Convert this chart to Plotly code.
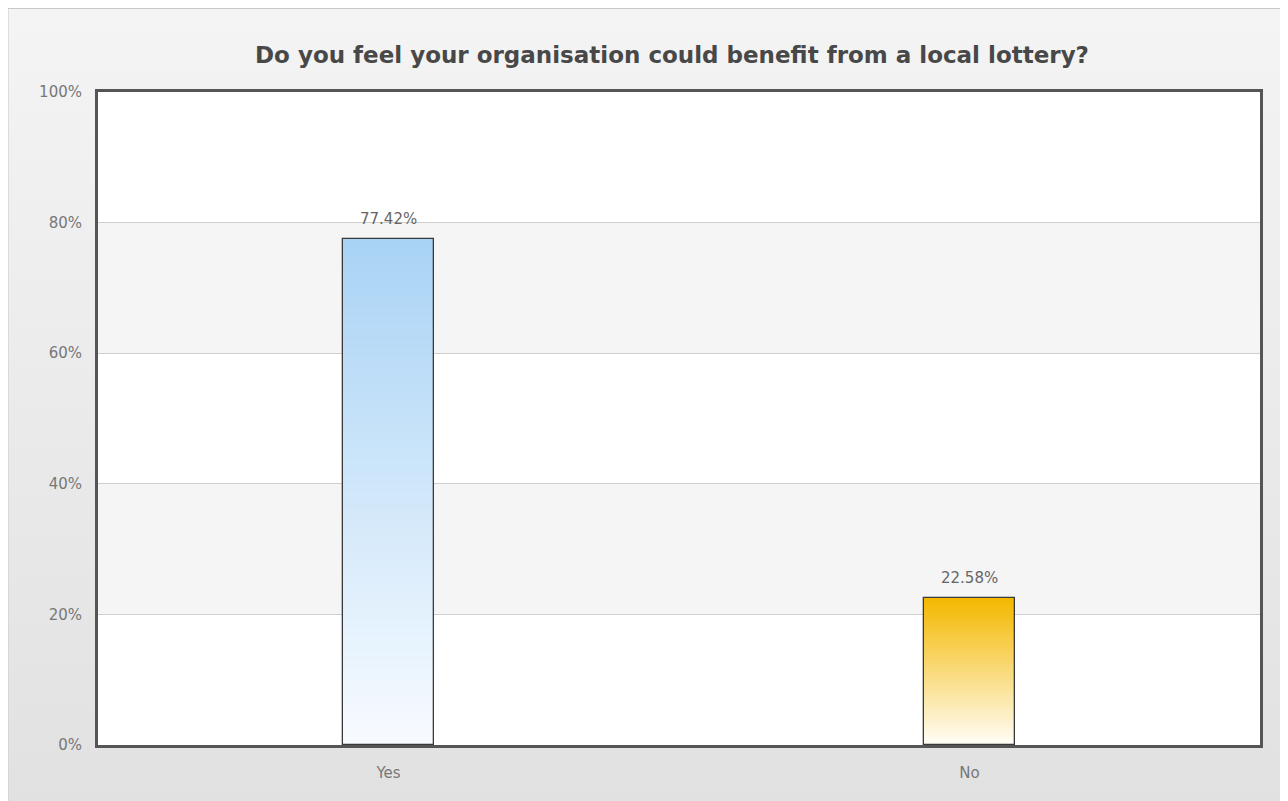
import base64
import plotly.graph_objects as go

# ---- data ----
categories = ["Yes", "No"]
values = [77.42, 22.58]
top_colors = ["#a9d3f5", "#f4b800"]
bottom_colors = ["#f7fbff", "#fffdf6"]
y_ticks = [0, 20, 40, 60, 80, 100]
y_tick_labels = ["0%", "20%", "40%", "60%", "80%", "100%"]
title_text = "Do you feel your organisation could benefit from a local lottery?"

# page body has an 8px margin, so the figure is sized to fit the 1288x801 window
W, H = 1280, 793
L, R, T, B = 90, 28, 84, 56
N_STEPS = 60
BAR_W = 0.158


def hex2rgb(h):
    h = h.lstrip("#")
    return tuple(int(h[i:i + 2], 16) for i in (0, 2, 4))


def mix(c1, c2, t):
    a, b = hex2rgb(c1), hex2rgb(c2)
    return "rgb(%d,%d,%d)" % tuple(round(a[i] + (b[i] - a[i]) * t) for i in range(3))


fig = go.Figure()

# gradient fill: overlaid bars, progressively shorter, colour from top to bottom
for k in range(N_STEPS):
    frac = 1 - k / N_STEPS
    fig.add_trace(go.Bar(
        x=categories,
        y=[v * frac for v in values],
        width=BAR_W,
        marker=dict(color=[mix(top_colors[i], bottom_colors[i], k / (N_STEPS - 1))
                           for i in range(len(categories))],
                    line=dict(width=0)),
        hoverinfo="skip",
        showlegend=False,
    ))

# outline
fig.add_trace(go.Bar(
    x=categories,
    y=values,
    width=BAR_W,
    marker=dict(color="rgba(0,0,0,0)", line=dict(color="#3a3a3a", width=1.3)),
    showlegend=False,
))

# value labels
for c, v in zip(categories, values):
    fig.add_annotation(x=c, y=v, text="%.2f%%" % v, showarrow=False,
                       yanchor="bottom", yshift=9,
                       font=dict(family="DejaVu Sans", size=15, color="#666666"))

# background gradient for the whole chart frame (svg data uri)
svg = f'''<svg xmlns="http://www.w3.org/2000/svg" width="{W}" height="{H}" preserveAspectRatio="none">
<defs><linearGradient id="g" x1="0" y1="0" x2="0" y2="1">
<stop offset="0" stop-color="#f4f4f4"/><stop offset="1" stop-color="#e1e1e1"/></linearGradient></defs>
<rect x="0" y="0" width="{W}" height="{H}" fill="#ffffff"/>
<rect x="0" y="0.5" width="{W + 10}" height="{H + 10}" fill="url(#g)" stroke="#c8c8c8" stroke-width="1"/>
</svg>'''
src = "data:image/svg+xml;base64," + base64.b64encode(svg.encode()).decode()
pw, ph = W - L - R, H - T - B
fig.add_layout_image(dict(
    source=src, xref="paper", yref="paper",
    x=-L / pw, y=1 + T / ph, sizex=W / pw, sizey=H / ph,
    xanchor="left", yanchor="top", sizing="stretch", layer="below",
))

# plot area background and alternating bands
fig.add_shape(type="rect", xref="paper", yref="y", x0=0, x1=1, y0=y_ticks[0], y1=y_ticks[-1],
              fillcolor="#ffffff", line=dict(width=0), layer="below")
for i in range(len(y_ticks) - 1):
    if i % 2 == 1:
        fig.add_shape(type="rect", xref="paper", yref="y",
                      x0=0, x1=1, y0=y_ticks[i], y1=y_ticks[i + 1],
                      fillcolor="#f5f5f5", line=dict(width=0), layer="below")

fig.update_layout(
    width=W, height=H,
    margin=dict(l=L, r=R, t=T, b=B),
    paper_bgcolor="#ffffff",
    plot_bgcolor="#ffffff",
    barmode="overlay",
    bargap=0,
    title=dict(text="<b>" + title_text + "</b>", x=(672 - 8) / W, xref="container", xanchor="center",
               y=1 - (55 - 8) / H, yanchor="middle",
               font=dict(family="DejaVu Sans", size=23, color="#484848")),
    font=dict(family="DejaVu Sans"),
)
fig.update_xaxes(
    type="category", range=[-0.5, 1.5],
    showline=True, linecolor="#555555", linewidth=3, mirror=True,
    showgrid=False, ticks="", tickfont=dict(size=15, color="#777777"),
    ticklabelstandoff=12,
)
fig.update_yaxes(
    range=[0, 100], tickmode="array", tickvals=y_ticks, ticktext=y_tick_labels,
    showline=True, linecolor="#555555", linewidth=3, mirror=True,
    showgrid=True, gridcolor="#cfcfcf", gridwidth=1, zeroline=False,
    ticks="", tickfont=dict(size=15, color="#777777"),
    ticklabelstandoff=10,
)

fig.write_html("out.html")
